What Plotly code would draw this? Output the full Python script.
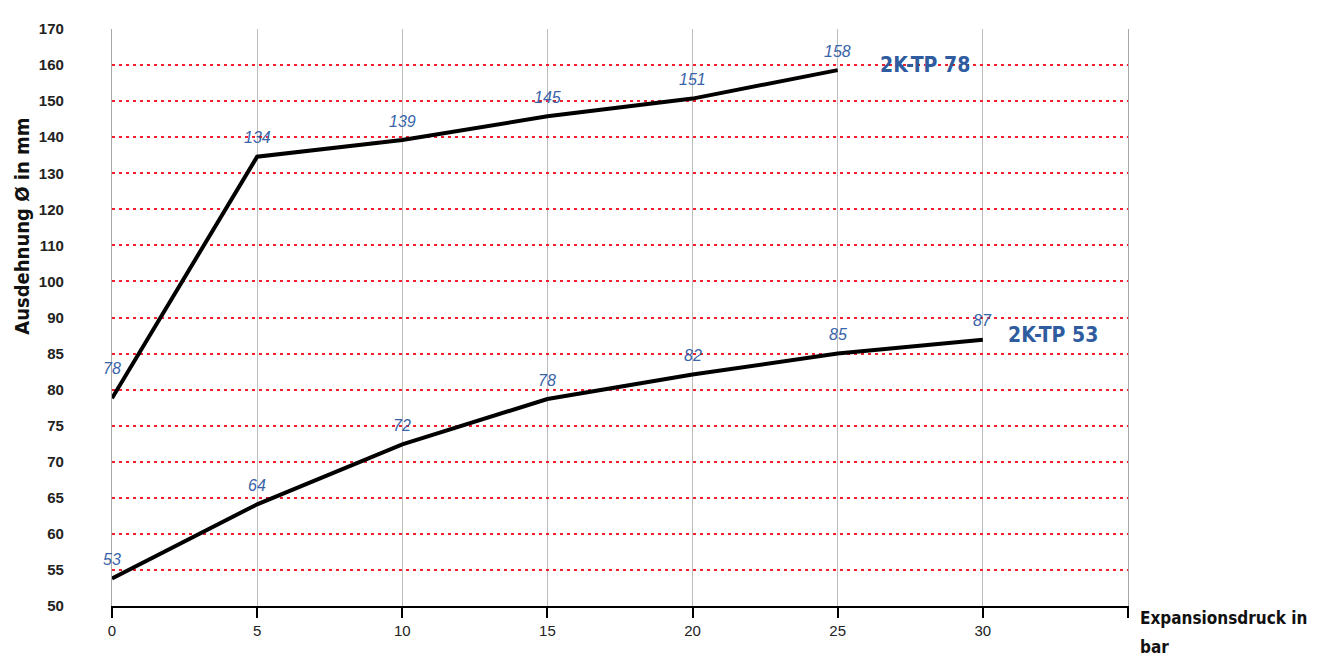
import numpy as np
import plotly.graph_objects as go

# Data
y_ticks = [50, 55, 60, 65, 70, 75, 80, 85, 90, 100, 110, 120, 130, 140, 150, 160, 170]
x_ticks = [0, 5, 10, 15, 20, 25, 30]
x_53 = [0, 5, 10, 15, 20, 25, 30]
y_53 = [53.8, 64.1, 72.4, 78.7, 82.1, 85.0, 86.9]
lbl_53 = ["53", "64", "72", "78", "82", "85", "87"]
x_78 = [0, 5, 10, 15, 20, 25]
y_78 = [78.8, 134.6, 139.2, 145.8, 150.7, 158.6]
lbl_78 = ["78", "134", "139", "145", "151", "158"]
series_names = ["2K-TP 53", "2K-TP 78"]
x_title = ["Expansionsdruck in", "bar"]
y_title = "Ausdehnung Ø in mm"

idx = np.arange(len(y_ticks))


def to_axis(v):
    # non-linear (piecewise) value axis as in the original chart
    return np.interp(v, y_ticks, idx)


BLUE = "#2F5C9F"
LBL = "#3A64A8"
COND = "DejaVu Sans Condensed"

fig = go.Figure()
for xs, ys in [(x_53, y_53), (x_78, y_78)]:
    fig.add_trace(go.Scatter(
        x=xs, y=to_axis(ys), mode="lines",
        line=dict(color="black", width=4), cliponaxis=False, showlegend=False,
        hoverinfo="skip"))

for xs, ys, lbls in [(x_53, y_53, lbl_53), (x_78, y_78, lbl_78)]:
    for xv, yv, t in zip(xs, to_axis(ys), lbls):
        fig.add_annotation(x=xv, y=yv, text=t, showarrow=False,
                           yshift=(30 if (xv == 0 and lbls is lbl_78) else 19),
                           xanchor="center", yanchor="middle",
                           font=dict(family="Liberation Sans", size=16, color=LBL, style="italic"))

# series name labels
fig.add_annotation(x=30.8, y=to_axis(87.6), text=series_names[0], showarrow=False,
                   xanchor="left", yanchor="middle",
                   font=dict(family=COND, size=21, color=BLUE, weight="bold"))
fig.add_annotation(x=26.4, y=to_axis(160), text=series_names[1], showarrow=False,
                   xanchor="left", yanchor="middle",
                   font=dict(family=COND, size=21, color=BLUE, weight="bold"))

# axis titles
fig.add_annotation(xref="paper", yref="paper", x=-0.0886, y=0.659, text=y_title,
                   textangle=-90, showarrow=False, xanchor="center", yanchor="middle",
                   font=dict(family=COND, size=20, color="#111", weight="bold"))
for txt, yp in zip(x_title, [-0.0205, -0.0717]):
    fig.add_annotation(xref="paper", yref="paper", x=1.0098, y=yp, text=txt,
                       showarrow=False, xanchor="left", yanchor="middle", align="left",
                       font=dict(family=COND, size=17, color="#111", weight="bold"))

fig.update_layout(
    width=1317, height=651,
    margin=dict(l=104, r=197, t=12, b=53),
    plot_bgcolor="white", paper_bgcolor="white",
    xaxis=dict(range=[0, 35], tickvals=x_ticks + [35], ticktext=[str(t) for t in x_ticks] + [""],
               showgrid=True, gridcolor="#BDBDBD", gridwidth=1.2,
               showline=True, linecolor="black", linewidth=2,
               ticks="outside", ticklen=10, tickwidth=2, tickcolor="black",
               tickfont=dict(family="Liberation Sans", size=15, color="#222"),
               zeroline=False, fixedrange=True),
    yaxis=dict(range=[0, 16], tickvals=list(idx), ticktext=[str(t) for t in y_ticks],
               showgrid=True, gridcolor="#F0202E", griddash="3px,4px", gridwidth=1.5,
               showline=True, mirror=True, linecolor="#A8A8A8", linewidth=1.2,
               zeroline=False, ticks="",
               ticklabelstandoff=44,
               tickfont=dict(family="Liberation Sans", size=15, color="#222", weight="bold"),
               fixedrange=True),
)

fig.write_html("out.html")
